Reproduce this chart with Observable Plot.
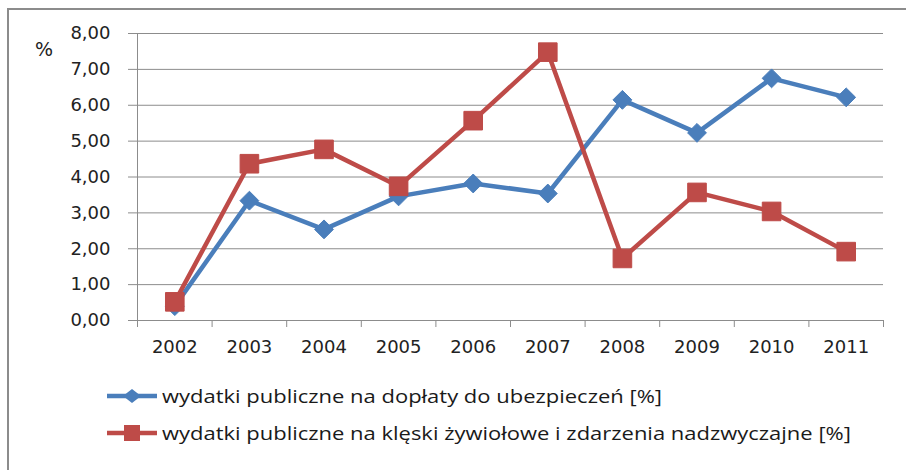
<!DOCTYPE html>
<html>
<head>
<meta charset="utf-8">
<script src="https://cdn.jsdelivr.net/npm/d3@7"></script>
<script src="https://cdn.jsdelivr.net/npm/@observablehq/plot@0.6"></script>
<style>
  html, body { margin: 0; padding: 0; background: #fff; }
  #wrap { position: relative; width: 906px; height: 470px; overflow: hidden; background: #fff; }
  #frame { position: absolute; left: 7px; top: 8px; width: 905px; height: 470px; border-left: 2px solid #8c8c8c; border-top: 2px solid #8c8c8c; box-sizing: border-box; }
  #chart { position: absolute; left: 0; top: 0; }
  #unit { position: absolute; left: 35px; top: 38px; font: 19px "DejaVu Sans", sans-serif; color: #222; }
  #legend { position: absolute; left: 107px; top: 384px; font: 19px "Open Sans", sans-serif; color: #1a1a1a; }
  .item { display: flex; align-items: center; height: 24px; margin-bottom: 13px; white-space: nowrap; }
  .item svg { margin-right: 5px; flex: none; }
  .item span { display: inline-block; transform-origin: 0 50%; }
</style>
</head>
<body>
<div id="wrap">
  <div id="frame"></div>
  <div id="chart"></div>
  <div id="unit">%</div>
  <div id="legend"></div>
</div>
<script>
const years = [2002, 2003, 2004, 2005, 2006, 2007, 2008, 2009, 2010, 2011];
const insurance = [0.40, 3.34, 2.54, 3.46, 3.82, 3.54, 6.15, 5.23, 6.75, 6.22];
const disasters = [0.52, 4.37, 4.77, 3.74, 5.57, 7.48, 1.73, 3.57, 3.04, 1.92];
const yTicks = [0, 1, 2, 3, 4, 5, 6, 7, 8];
const seriesNames = [
  "wydatki publiczne na dopłaty do ubezpieczeń [%]",
  "wydatki publiczne na klęski żywiołowe i zdarzenia nadzwyczajne [%]"
];
const colors = ["#4A7EBB", "#BE4B48"];

const rowsA = years.map((y, i) => ({year: y, value: insurance[i]}));
const rowsB = years.map((y, i) => ({year: y, value: disasters[i]}));
const bounds = years.map(y => y - 0.5).concat([years[years.length - 1] + 0.5]);
const fmt = d => d.toFixed(2).replace(".", ",");

const plot = Plot.plot({
  width: 906,
  height: 470,
  marginTop: 33,
  marginLeft: 137,
  marginRight: 23,
  marginBottom: 150,
  style: {fontFamily: "DejaVu Sans, sans-serif", fontSize: "18px", color: "#222", background: "transparent"},
  x: {type: "linear", domain: [bounds[0], bounds[bounds.length - 1]]},
  y: {domain: [0, 8]},
  marks: [
    Plot.gridY(yTicks, {stroke: "#8c8c8c", strokeOpacity: 1, strokeWidth: 1}),
    Plot.axisY(yTicks, {tickSize: 9, tickPadding: 18, tickFormat: fmt, stroke: "#8c8c8c", label: null, fontSize: 18}),
    Plot.axisX(bounds, {tickSize: 7, stroke: "#8c8c8c", tickFormat: () => "", label: null}),
    Plot.axisX(years, {tickSize: 0, tickPadding: 20, tickFormat: d => String(d), label: null, fontSize: 18}),
    Plot.ruleX([bounds[0]], {stroke: "#8c8c8c"}),
    Plot.ruleY([0], {stroke: "#8c8c8c"}),
    Plot.line(rowsA, {x: "year", y: "value", stroke: colors[0], strokeWidth: 4.5}),
    Plot.dot(rowsA, {x: "year", y: "value", symbol: "diamond2", r: 8.5, fill: colors[0], stroke: colors[0], strokeWidth: 1}),
    Plot.line(rowsB, {x: "year", y: "value", stroke: colors[1], strokeWidth: 4.5}),
    Plot.dot(rowsB, {x: "year", y: "value", symbol: "square", r: 10.5, fill: colors[1], stroke: colors[1], strokeWidth: 1})
  ]
});
document.getElementById("chart").appendChild(plot);

const legend = document.getElementById("legend");
const spans = [];
seriesNames.forEach((name, i) => {
  const item = document.createElement("div");
  item.className = "item";
  const sym = i === 0
    ? `<polygon points="25,5 34,12 25,19 16,12" fill="${colors[0]}"/>`
    : `<rect x="17" y="4" width="16" height="16" fill="${colors[1]}"/>`;
  item.innerHTML = `<svg width="50" height="24"><line x1="0" x2="50" y1="12" y2="12" stroke="${colors[i]}" stroke-width="4.5"/>${sym}</svg><span>${name}</span>`;
  legend.appendChild(item);
  spans.push(item.querySelector("span"));
});
// Fit the legend text to the width of the original narrow typeface
const target = 500;
const k = target / spans[0].getBoundingClientRect().width;
spans.forEach(s => { s.style.transform = `scaleX(${k})`; });
</script>
</body>
</html>
